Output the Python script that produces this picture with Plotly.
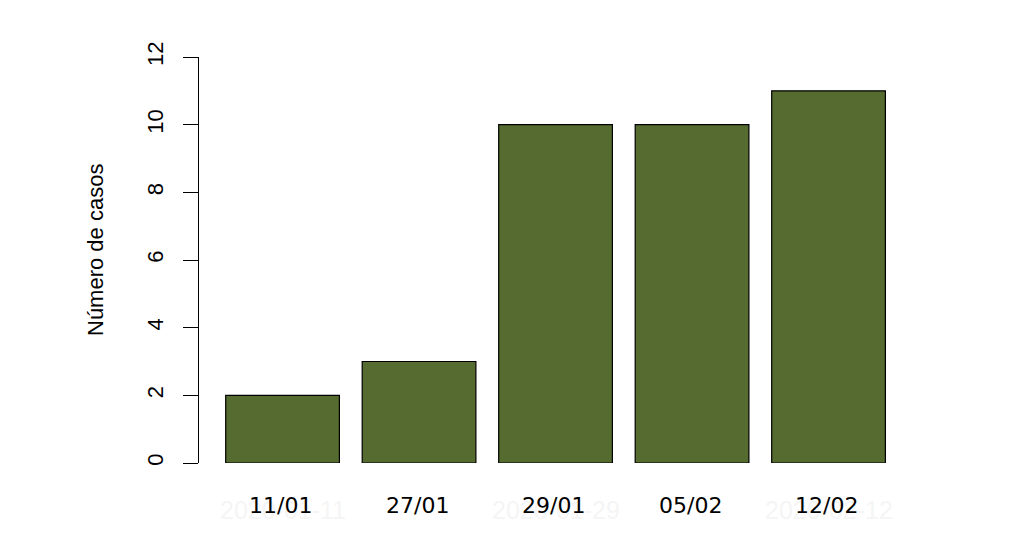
import plotly.graph_objects as go

dates = ["2020-01-11", "2020-01-27", "2020-01-29", "2020-02-05", "2020-02-12"]
labels = ["11/01", "27/01", "29/01", "05/02", "12/02"]
cases = [2, 3, 10, 10, 11]
ghost_idx = [0, 2, 4]
y_ticks = [0, 2, 4, 6, 8, 10, 12]

W, H = 1011, 528
L, R, T, B = 191, 59, 49, 73

xs = list(range(len(dates)))

fig = go.Figure()
fig.add_trace(go.Bar(
    x=xs, y=cases,
    marker=dict(color="#556B2F", line=dict(color="black", width=1.2)),
    width=0.833,
    hoverinfo="skip",
))

annotations = []
for i in ghost_idx:
    annotations.append(dict(
        x=xs[i], y=0, xref="x", yref="paper", text=dates[i], showarrow=False,
        xanchor="center", yanchor="middle", yshift=-47,
        font=dict(family="Liberation Sans, Arial", size=25, color="#f5f5f5"),
    ))
for i, lab in enumerate(labels):
    annotations.append(dict(
        x=xs[i], y=0, xref="x", yref="paper", text=lab, showarrow=False,
        xanchor="center", yanchor="middle", yshift=-42, xshift=-2,
        font=dict(family="DejaVu Sans", size=22, color="black"),
    ))
annotations.append(dict(
    x=0, y=0.5, xref="paper", yref="paper", text="Número de casos", showarrow=False,
    xanchor="center", yanchor="middle", xshift=-104, yshift=10, textangle=-90,
    font=dict(family="Liberation Sans, Arial", size=22, color="black"),
))

fig.update_layout(
    width=W, height=H,
    margin=dict(l=L, r=R, t=T, b=B, pad=0),
    paper_bgcolor="white", plot_bgcolor="white",
    showlegend=False,
    annotations=annotations,
    xaxis=dict(range=[-0.612, 4.963], showgrid=False, zeroline=False,
               showline=False, showticklabels=False, ticks=""),
    yaxis=dict(range=[0, 12], tickvals=y_ticks, ticktext=[str(v) for v in y_ticks],
               showgrid=False, zeroline=False, showline=True, linecolor="black",
               linewidth=1.2, ticks="outside", ticklen=15, tickwidth=1.2,
               tickcolor="black", tickangle=-90, ticklabelstandoff=11,
               tickfont=dict(family="Liberation Sans, Arial", size=22, color="black")),
)

fig.write_html("out.html")
